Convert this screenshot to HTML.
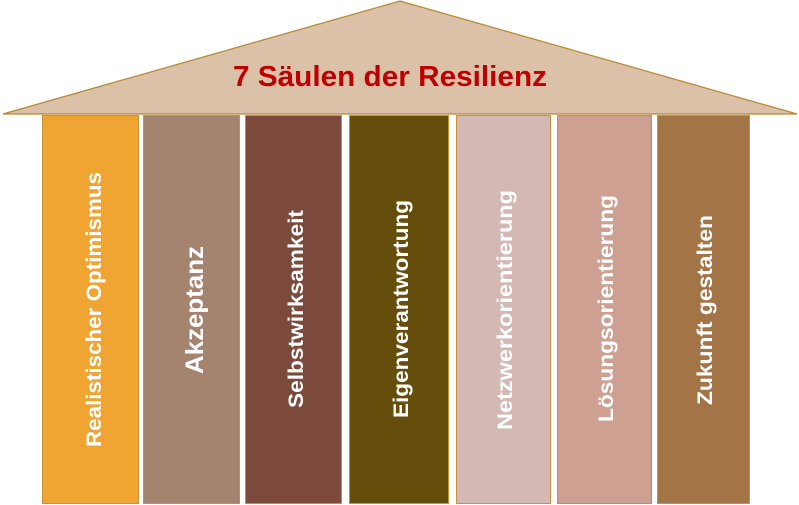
<!DOCTYPE html>
<html><head><meta charset="utf-8"><style>html,body{margin:0;padding:0;background:#fff;}svg{display:block}</style></head>
<body>
<svg width="799" height="505" viewBox="0 0 799 505" xmlns="http://www.w3.org/2000/svg" font-family="Liberation Sans, sans-serif" font-weight="bold">
<polygon points="3,114 400,1 797,114" fill="#dbc1a7" stroke="#b8862e" stroke-width="1.2"/>
<text x="390" y="86" text-anchor="middle" font-size="29" fill="#c00000" textLength="314" lengthAdjust="spacingAndGlyphs">7 Säulen der Resilienz</text>
<g stroke="#c8923a" stroke-width="1">
<rect x="42.5" y="115.5" width="96" height="388" fill="#f0a431"/>
<rect x="143.5" y="115.5" width="96" height="388" fill="#a4836f"/>
<rect x="245.5" y="115.5" width="96" height="388" fill="#7b4a3b"/>
<rect x="349.5" y="115.5" width="99" height="388" fill="#654d0b"/>
<rect x="456.5" y="115.5" width="94" height="388" fill="#d4b8b3"/>
<rect x="557.5" y="115.5" width="94" height="388" fill="#cda092"/>
<rect x="657.5" y="115.5" width="92" height="388" fill="#a37445"/>
</g>
<g fill="#fff" font-size="21">
<text transform="translate(101,447) rotate(-90)" textLength="275" lengthAdjust="spacingAndGlyphs">Realistischer Optimismus</text>
<text transform="translate(203,374) rotate(-90)" font-size="25" textLength="128" lengthAdjust="spacingAndGlyphs">Akzeptanz</text>
<text transform="translate(303,408) rotate(-90)" textLength="198" lengthAdjust="spacingAndGlyphs">Selbstwirksamkeit</text>
<text transform="translate(408,418) rotate(-90)" textLength="218" lengthAdjust="spacingAndGlyphs">Eigenverantwortung</text>
<text transform="translate(512,430) rotate(-90)" textLength="240" lengthAdjust="spacingAndGlyphs">Netzwerkorientierung</text>
<text transform="translate(613,422) rotate(-90)" textLength="227" lengthAdjust="spacingAndGlyphs">Lösungsorientierung</text>
<text transform="translate(712,405) rotate(-90)" textLength="190" lengthAdjust="spacingAndGlyphs">Zukunft gestalten</text>
</g>
</svg>
</body></html>
